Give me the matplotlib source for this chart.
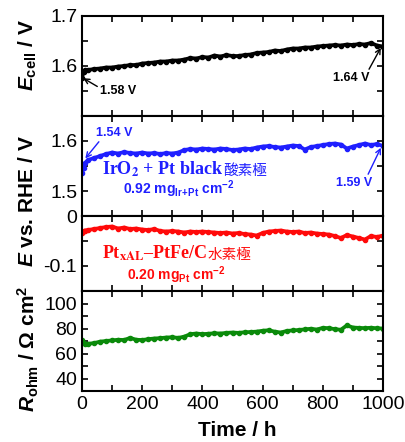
import numpy as np
import matplotlib
matplotlib.use("Agg")
import matplotlib.pyplot as plt
from matplotlib.ticker import MultipleLocator, FixedLocator

plt.rcParams['font.family'] = 'Liberation Sans'
plt.rcParams['mathtext.fontset'] = 'custom'
plt.rcParams['mathtext.rm'] = 'Liberation Sans:bold'
plt.rcParams['mathtext.it'] = 'Liberation Sans:italic:bold'
plt.rcParams['mathtext.bf'] = 'Liberation Sans:bold'
plt.rcParams['axes.unicode_minus'] = False

# ---------------------------
# data
# ---------------------------
time_h = [0, 5, 10, 20, 40, 60, 80, 100, 120, 140, 160, 180, 200, 220, 240, 260,
          280, 300, 320, 340, 360, 380, 400, 420, 440, 460, 480, 500, 520, 540,
          560, 580, 600, 620, 640, 660, 680, 700, 720, 740, 760, 780, 800, 820,
          840, 860, 880, 900, 920, 940, 960, 980, 1000]

e_cell = [1.577, 1.588, 1.592, 1.592, 1.594, 1.595, 1.597, 1.597, 1.599, 1.600,
          1.602, 1.602, 1.605, 1.606, 1.607, 1.609, 1.609, 1.611, 1.611, 1.613,
          1.616, 1.615, 1.618, 1.617, 1.621, 1.619, 1.622, 1.620, 1.620, 1.622,
          1.623, 1.626, 1.627, 1.628, 1.631, 1.630, 1.633, 1.635, 1.635, 1.637,
          1.637, 1.639, 1.640, 1.641, 1.642, 1.641, 1.643, 1.642, 1.644, 1.643,
          1.646, 1.641, 1.639]

e_anode = [1.536, 1.547, 1.556, 1.562, 1.566, 1.570, 1.574, 1.577, 1.575, 1.578,
           1.576, 1.575, 1.577, 1.575, 1.576, 1.574, 1.576, 1.575, 1.577, 1.582,
           1.584, 1.583, 1.585, 1.584, 1.583, 1.585, 1.584, 1.582, 1.583, 1.585,
           1.584, 1.587, 1.589, 1.590, 1.588, 1.587, 1.589, 1.591, 1.590, 1.583,
           1.588, 1.590, 1.592, 1.594, 1.595, 1.593, 1.585, 1.589, 1.592, 1.595,
           1.592, 1.594, 1.590]

e_cathode = [-0.033, -0.030, -0.029, -0.028, -0.026, -0.024, -0.022, -0.021, -0.025,
             -0.023, -0.026, -0.025, -0.027, -0.028, -0.026, -0.030, -0.031, -0.030,
             -0.031, -0.033, -0.031, -0.032, -0.031, -0.032, -0.033, -0.034, -0.033,
             -0.035, -0.034, -0.036, -0.037, -0.039, -0.034, -0.031, -0.030, -0.029,
             -0.031, -0.032, -0.031, -0.034, -0.033, -0.035, -0.036, -0.037, -0.040,
             -0.044, -0.038, -0.041, -0.044, -0.047, -0.040, -0.042, -0.039]

r_ohm = [70.5, 68.5, 67.5, 67.8, 68.3, 69.5, 70.0, 70.5, 71.0, 70.8, 72.5, 71.0,
         70.8, 71.5, 72.0, 72.3, 72.8, 73.0, 72.5, 73.5, 75.5, 76.0, 75.5, 75.8,
         76.2, 76.0, 76.5, 76.8, 76.5, 77.0, 77.2, 77.5, 78.2, 78.6, 77.5, 76.8,
         78.0, 78.5, 78.8, 79.3, 79.8, 79.2, 80.5, 80.3, 79.5, 79.0, 82.5, 80.8,
         80.5, 80.3, 80.6, 80.2, 80.0]

xticks = [0, 200, 400, 600, 800, 1000]

# ---------------------------
# layout
# ---------------------------
fig = plt.figure(figsize=(4.05, 4.42), dpi=100)
left, width = 82 / 405, 301 / 405
rects = [(16, 116), (116, 216), (216, 291), (291, 391)]
axes = []
for top, bot in rects:
    ax = fig.add_axes([left, 1 - bot / 442, width, (bot - top) / 442])
    axes.append(ax)
ax1, ax2, ax3, ax4 = axes

for ax in axes:
    ax.set_xlim(0, 1000)
    ax.xaxis.set_major_locator(FixedLocator(xticks))
    ax.xaxis.set_minor_locator(MultipleLocator(100))
    ax.tick_params(which='both', direction='in', top=True, right=True,
                   width=1.2, length=4, labelsize=14)
    for sp in ax.spines.values():
        sp.set_linewidth(1.5)
    if ax is not ax4:
        ax.tick_params(labelbottom=False)

kw = dict(lw=2.7, marker='o', ms=3)
ax1.plot(time_h, e_cell, color='black', **kw)
ax2.plot(time_h, e_anode, color='#1f1fff', **kw)
ax3.plot(time_h, e_cathode, color='#ff0a0a', **kw)
ax4.plot(time_h, r_ohm, color='#0a8a0a', **kw)

ax1.set_ylim(1.5, 1.7)
ax1.yaxis.set_major_locator(FixedLocator([1.6, 1.7]))
ax1.yaxis.set_minor_locator(FixedLocator([1.55, 1.65]))

ax2.set_ylim(1.45, 1.65)
ax2.yaxis.set_major_locator(FixedLocator([1.5, 1.6]))
ax2.yaxis.set_minor_locator(FixedLocator([1.55]))

ax3.set_ylim(-0.15, 0)
ax3.yaxis.set_major_locator(FixedLocator([-0.1, 0]))
ax3.yaxis.set_minor_locator(FixedLocator([-0.05]))
ax3.set_yticklabels(['-0.1', '0'])

ax4.set_ylim(30, 110)
ax4.yaxis.set_major_locator(FixedLocator([40, 60, 80, 100]))
ax4.yaxis.set_minor_locator(MultipleLocator(10))

# axis labels
lab = dict(fontsize=15, fontweight='bold', rotation=90, ha='center', va='center')
fig.text(0.069, 0.876, r'$E_\mathrm{cell}$ / V', **lab)
fig.text(0.069, 0.545, r'$E$ vs. RHE / V', **lab)
fig.text(0.069, 0.21, r'$R_\mathrm{ohm}$ / Ω cm$^\mathrm{2}$', **lab)
fig.text(0.585, 0.027, 'Time / h', fontsize=15, fontweight='bold',
         ha='center', va='center')

# value annotations
arr = dict(arrowstyle='->', lw=1, shrinkA=0, shrinkB=1)
ax1.annotate('1.58 V', xy=(0, 1.577), xytext=(60, 1.551), fontsize=9,
             fontweight='bold', ha='left', va='center',
             arrowprops=dict(relpos=(0, 0.7), **arr))
ax1.annotate('1.64 V', xy=(995, 1.639), xytext=(894, 1.576), fontsize=9,
             fontweight='bold', ha='center', va='center',
             arrowprops=dict(relpos=(0.95, 1), **arr))
ax2.annotate('1.54 V', xy=(8, 1.563), xytext=(106, 1.616), fontsize=9,
             fontweight='bold', ha='center', va='center', color='#1f1fff',
             arrowprops=dict(relpos=(0.15, 0), color='#1f1fff', **arr))
ax2.annotate('1.59 V', xy=(995, 1.589), xytext=(904, 1.516), fontsize=9,
             fontweight='bold', ha='center', va='center', color='#1f1fff',
             arrowprops=dict(relpos=(0.85, 1), color='#1f1fff', **arr))

# catalyst labels
t_an = ax2.text(66, 1.532, r'IrO$_\mathbf{2}$ + Pt black', fontsize=13,
                family='Liberation Serif', fontweight='bold', color='#1f1fff',
                math_fontfamily='stix', va='baseline')
ax2.text(136, 1.494, r'0.92 mg$_\mathrm{Ir\!+\!Pt}$ cm$^\mathrm{-2}$', fontsize=10,
         fontweight='bold', color='#1f1fff', va='baseline')
t_ca = ax3.text(66, -0.085, r'Pt$_\mathbf{xAL}$–PtFe/C', fontsize=13,
                family='Liberation Serif', fontweight='bold', color='#ff0a0a',
                math_fontfamily='stix', va='baseline')
ax3.text(149, -0.127, r'0.20 mg$_\mathrm{Pt}$ cm$^\mathrm{-2}$', fontsize=10,
         fontweight='bold', color='#ff0a0a', va='baseline')

fig.canvas.draw()
for ax, t, y, c, s in [(ax2, t_an, 1.532, '#1f1fff', '酸素極'),
                       (ax3, t_ca, -0.085, '#ff0a0a', '水素極')]:
    bb = t.get_window_extent()
    x_end = ax.transData.inverted().transform((bb.x1, bb.y0))[0]
    ax.text(x_end, y, s, fontsize=10.5, family='Noto Sans CJK JP', color=c,
            va='baseline')

fig.savefig('out.png', dpi=100)
